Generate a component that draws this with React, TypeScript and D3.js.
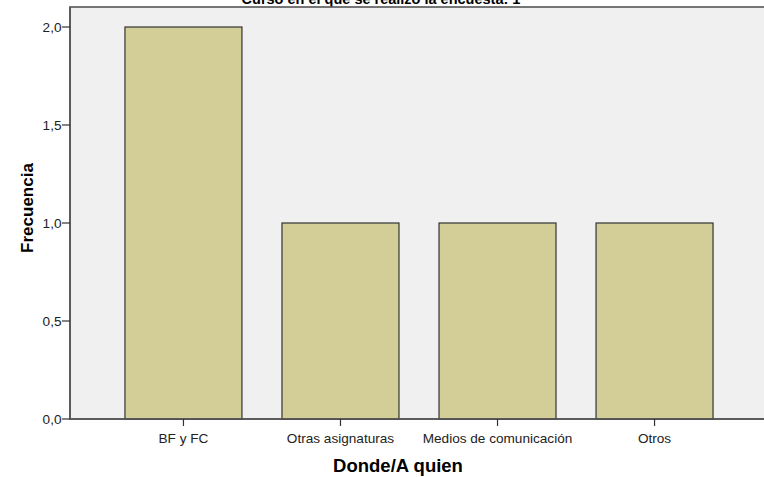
import React from "react";
import * as d3 from "d3";

const categories = ["BF y FC", "Otras asignaturas", "Medios de comunicación", "Otros"];
const values = [2, 1, 1, 1];
const yTicks = [0, 0.5, 1, 1.5, 2];
const title = "Curso en el que se realizó la encuesta: 1";
const xTitle = "Donde/A quien";
const yTitle = "Frecuencia";

export default function App() {
  const W = 764, H = 477;
  const left = 70, top = 7, right = 768, bottom = 419;
  const x = d3.scaleBand<string>().domain(categories).range([left, right]).paddingInner(0.255).paddingOuter(0.35);
  const y = d3.scaleLinear().domain([0, 2]).range([bottom, 27]);
  const fmt = (v: number) => v.toFixed(1).replace(".", ",");
  const font = "Arial, 'Liberation Sans', sans-serif";
  return (
    <svg width={W} height={H} style={{ position: "absolute", left: 0, top: 0, background: "#fff" }}>
      <text x={381} y={3.5} textAnchor="middle" fontFamily={font} fontWeight="bold" fontSize={14.5} fill="#000">{title}</text>
      <rect x={left} y={top} width={W - left + 5} height={bottom - top} fill="#f0f0f0" stroke="#555" strokeWidth={1.6} />
      {categories.map((c, i) => (
        <rect key={c} x={x(c)!} y={y(values[i])} width={x.bandwidth()} height={bottom - y(values[i])}
          fill="#d3ce97" stroke="#333" strokeWidth={1.2} />
      ))}
      <line x1={left} x2={W} y1={bottom} y2={bottom} stroke="#555" strokeWidth={1.6} />
      <line x1={left} x2={left} y1={top} y2={bottom} stroke="#555" strokeWidth={1.6} />
      {yTicks.map(t => (
        <g key={t}>
          <line x1={left - 8} x2={left} y1={y(t)} y2={y(t)} stroke="#333" strokeWidth={1.2} />
          <text x={left - 8.5} y={y(t) + 5} textAnchor="end" fontFamily={font} fontSize={13.6} fill="#222">{fmt(t)}</text>
        </g>
      ))}
      {categories.map(c => {
        const cx = x(c)! + x.bandwidth() / 2;
        return (
          <g key={c}>
            <line x1={cx} x2={cx} y1={bottom} y2={bottom + 7} stroke="#333" strokeWidth={1.2} />
            <text x={cx} y={bottom + 23.5} textAnchor="middle" fontFamily={font} fontSize={13.6} fill="#222">{c}</text>
          </g>
        );
      })}
      <text x={398} y={472} textAnchor="middle" fontFamily={font} fontWeight="bold" fontSize={18.5} fill="#000">{xTitle}</text>
      <text transform={`translate(33,${208}) rotate(-90)`} textAnchor="middle" fontFamily={font} fontWeight="bold" fontSize={17} fill="#000">{yTitle}</text>
    </svg>
  );
}
